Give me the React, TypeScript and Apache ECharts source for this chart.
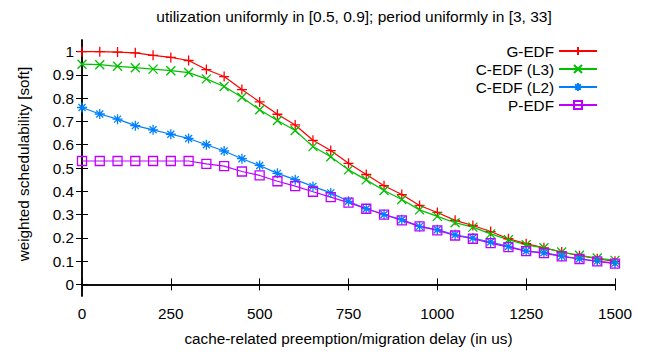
import React, { useEffect, useRef } from "react";
import * as echarts from "echarts";

const delays = [0, 50, 100, 150, 200, 250, 300, 350, 400, 450, 500, 550, 600, 650, 700, 750, 800, 850, 900, 950, 1000, 1050, 1100, 1150, 1200, 1250, 1300, 1350, 1400, 1450, 1500];

const gEdf = [1.0, 1.0, 0.998, 0.995, 0.984, 0.975, 0.962, 0.923, 0.893, 0.837, 0.784, 0.731, 0.685, 0.619, 0.575, 0.52, 0.472, 0.424, 0.386, 0.339, 0.309, 0.275, 0.253, 0.227, 0.196, 0.175, 0.157, 0.139, 0.123, 0.11, 0.099];
const cEdfL3 = [0.946, 0.944, 0.937, 0.931, 0.925, 0.918, 0.91, 0.883, 0.85, 0.804, 0.75, 0.704, 0.661, 0.592, 0.548, 0.492, 0.449, 0.403, 0.365, 0.32, 0.292, 0.265, 0.246, 0.217, 0.192, 0.17, 0.157, 0.139, 0.125, 0.113, 0.103];
const cEdfL2 = [0.76, 0.732, 0.71, 0.682, 0.664, 0.645, 0.627, 0.6, 0.573, 0.54, 0.511, 0.477, 0.45, 0.421, 0.393, 0.357, 0.325, 0.3, 0.278, 0.249, 0.235, 0.213, 0.199, 0.182, 0.163, 0.143, 0.136, 0.121, 0.11, 0.1, 0.091];
const pEdf = [0.53, 0.53, 0.53, 0.53, 0.53, 0.53, 0.53, 0.518, 0.508, 0.485, 0.468, 0.443, 0.422, 0.398, 0.375, 0.351, 0.325, 0.3, 0.275, 0.249, 0.232, 0.21, 0.196, 0.177, 0.16, 0.143, 0.134, 0.12, 0.109, 0.099, 0.089];

const seriesNames = ["G-EDF", "C-EDF (L3)", "C-EDF (L2)", "P-EDF"];
const yTicks = [0, 0.1, 0.2, 0.3, 0.4, 0.5, 0.6, 0.7, 0.8, 0.9, 1];
const xTicks = [0, 250, 500, 750, 1000, 1250, 1500];

const titleText = "utilization uniformly in [0.5, 0.9]; period uniformly in [3, 33]";
const xName = "cache-related preemption/migration delay (in us)";
const yName = "weighted schedulability [soft]";

const FONT = "Liberation Sans, Arial, Helvetica, sans-serif";
const FS = 15.3;

const PLUS = "path://M0,5L10,5M5,0L5,10";
const CROSS = "path://M0,0L10,10M0,10L10,0";
const STAR = "path://M0,5L10,5M5,0L5,10M1.5,1.5L8.5,8.5M1.5,8.5L8.5,1.5";

export default function App() {
  const ref = useRef<HTMLDivElement>(null);
  useEffect(() => {
    if (!ref.current) return;
    const chart = echarts.init(ref.current, undefined, { renderer: "svg" });
    const mk = (name: string, data: number[], color: string, symbol: string, size: number) => ({
      name,
      type: "line",
      data: delays.map((d, i) => [d, data[i]]),
      symbol,
      symbolSize: size,
      showAllSymbol: true,
      lineStyle: { color, width: 1.2 },
      itemStyle: { color: "transparent", borderColor: color, borderWidth: 1.3 },
      emphasis: { disabled: true },
    });
    const tickStyle = { show: true, inside: true, length: 6, lineStyle: { color: "#000", width: 1 } };
    chart.setOption({
      animation: false,
      textStyle: { fontFamily: FONT },
      title: {
        text: titleText,
        left: 349,
        top: 3,
        textAlign: "center",
        textStyle: { fontFamily: FONT, fontSize: 15.5, fontWeight: "normal", color: "#000" },
      },
      graphic: [
        {
          type: "text",
          x: 23,
          y: 164,
          rotation: Math.PI / 2,
          style: {
            text: yName,
            fontFamily: FONT,
            fontSize: FS,
            fill: "#000",
            align: "center",
            verticalAlign: "middle",
          },
        },
      ],
      legend: {
        right: 59,
        top: 43,
        orient: "vertical",
        align: "right",
        itemWidth: 38,
        itemHeight: 10,
        itemGap: 2,
        padding: 0,
        textStyle: { fontFamily: FONT, fontSize: FS, color: "#000", lineHeight: 16 },
        data: seriesNames,
      },
      grid: { left: 82, right: 42, top: 40, bottom: 60 },
      xAxis: [
        {
          type: "value",
          min: 0,
          max: 1500,
          interval: 250,
          name: xName,
          nameLocation: "middle",
          nameGap: 35,
          nameTextStyle: { fontFamily: FONT, fontSize: FS, color: "#000" },
          axisLine: { show: true, lineStyle: { color: "#000", width: 1.5 } },
          axisTick: { ...tickStyle, customValues: xTicks },
          axisLabel: {
            color: "#000",
            fontSize: FS,
            fontFamily: FONT,
            margin: 10,
            customValues: xTicks,
            formatter: (v: number) => String(v),
          },
          splitLine: { show: false },
        },
        {
          type: "value",
          position: "top",
          min: 0,
          max: 1500,
          interval: 250,
          axisLine: { show: true, lineStyle: { color: "#000", width: 1.5 } },
          axisTick: { ...tickStyle, customValues: xTicks },
          axisLabel: { show: false },
          splitLine: { show: false },
        },
      ],
      yAxis: [
        {
          type: "value",
          min: -0.05,
          max: 1.05,
          axisLine: { show: true, lineStyle: { color: "#000", width: 1.5 } },
          axisTick: { ...tickStyle, customValues: yTicks },
          axisLabel: {
            color: "#000",
            fontSize: FS,
            fontFamily: FONT,
            margin: 8,
            customValues: yTicks,
            formatter: (v: number) => String(Math.round(v * 10) / 10),
          },
          splitLine: { show: false },
        },
        {
          type: "value",
          position: "right",
          min: -0.05,
          max: 1.05,
          axisLine: { show: true, lineStyle: { color: "#000", width: 1.5 } },
          axisTick: { ...tickStyle, customValues: yTicks },
          axisLabel: { show: false },
          splitLine: { show: false },
        },
      ],
      series: [
        mk(seriesNames[0], gEdf, "#ff0000", PLUS, 10),
        mk(seriesNames[1], cEdfL3, "#00c000", CROSS, 9),
        mk(seriesNames[2], cEdfL2, "#0080ff", STAR, 10),
        mk(seriesNames[3], pEdf, "#c000ff", "rect", 9),
      ],
    });
    return () => chart.dispose();
  }, []);
  return (
    <div
      ref={ref}
      style={{ position: "fixed", left: 0, top: 0, width: 657, height: 356, background: "#fff" }}
    />
  );
}
